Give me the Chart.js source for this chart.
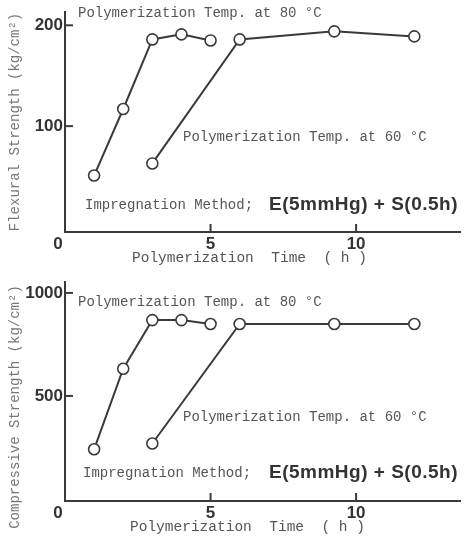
<!DOCTYPE html>
<html><head><meta charset="utf-8">
<script src="https://cdn.jsdelivr.net/npm/chart.js@4.4.0/dist/chart.umd.min.js"></script>
<style>html,body{margin:0;padding:0;background:#fff;} canvas{display:block;}</style>
</head><body>
<canvas id="c1" width="468" height="270"></canvas>
<canvas id="c2" width="468" height="269"></canvas>
<script>
// ---- data ----
const hours80 = [1, 2, 3, 4, 5];
const hours60 = [3, 6, 9.25, 12];
const flex80 = [51, 117, 186, 191, 185];
const flex60 = [63, 186, 194, 189];
const comp80 = [241, 632, 868, 868, 849];
const comp60 = [269, 849, 849, 849];
const timeTicks = [0, 5, 10];
const flexTicks = [100, 200];
const compTicks = [500, 1000];
const label80 = 'Polymerization Temp. at 80 \u00B0C';
const label60 = 'Polymerization Temp. at 60 \u00B0C';
const methodLabel = 'Impregnation Method;';
const methodFormula = 'E(5mmHg) + S(0.5h)';
const xTitle = 'Polymerization  Time  ( h )';
const flexTitle = 'Flexural Strength (kg/cm\u00B2)';
const compTitle = 'Compressive Strength (kg/cm\u00B2)';

const LINE = '#3a3a3a';
const TEXT = '#555';
const MONO = "14px 'Liberation Mono', 'DejaVu Sans Mono', monospace";
const TICKFONT = "'Liberation Sans', Arial, sans-serif";

function pts(xs, ys) { return xs.map((x, i) => ({ x: x, y: ys[i] })); }

const annotPlugin = {
  id: 'annot',
  afterDraw(chart, args, opts) {
    const ctx = chart.ctx;
    const xs = chart.scales.x, ys = chart.scales.y;
    const ca = chart.chartArea;
    ctx.save();
    // inside tick marks
    ctx.strokeStyle = LINE; ctx.lineWidth = 2;
    ys.ticks.forEach(t => {
      const y = ys.getPixelForValue(t.value);
      ctx.beginPath(); ctx.moveTo(ca.left, y); ctx.lineTo(ca.left + 8, y); ctx.stroke();
    });
    xs.ticks.forEach(t => {
      if (t.value === 0) return;
      const x = xs.getPixelForValue(t.value);
      ctx.beginPath(); ctx.moveTo(x, ca.bottom); ctx.lineTo(x, ca.bottom - 8); ctx.stroke();
    });
    // texts
    ctx.textBaseline = 'middle';
    ctx.textAlign = 'left';
    (opts.items || []).forEach(it => {
      ctx.font = it.font || MONO;
      ctx.fillStyle = it.color || TEXT;
      ctx.letterSpacing = it.spacing || '0px';
      if (it.rotate) {
        ctx.save();
        ctx.translate(it.x, it.y);
        ctx.rotate(-Math.PI / 2);
        ctx.textAlign = 'center';
        ctx.fillText(it.text, 0, 0);
        ctx.restore();
      } else {
        ctx.fillText(it.text, it.x, it.y);
      }
    });
    ctx.letterSpacing = '0px';
    ctx.restore();
  }
};

function makeChart(id, y80, y60, yTicks, yMin, yMax, yTitle, items) {
  return new Chart(document.getElementById(id), {
    type: 'line',
    data: {
      datasets: [
        { data: pts(hours80, y80) },
        { data: pts(hours60, y60) }
      ]
    },
    options: {
      responsive: false,
      animation: false,
      events: [],
      layout: { padding: { top: 10, right: 7, left: 0, bottom: 0 } },
      elements: {
        line: { borderColor: LINE, borderWidth: 2, tension: 0 },
        point: { radius: 5.5, backgroundColor: '#fff', borderColor: LINE, borderWidth: 1.6 }
      },
      plugins: { legend: { display: false }, tooltip: { enabled: false }, annot: { items: items } },
      scales: {
        x: {
          type: 'linear', min: 0, max: 13.6,
          afterBuildTicks: s => { s.ticks = timeTicks.map(v => ({ value: v })); },
          afterFit: s => { s.height = 38; },
          grid: { display: false, drawTicks: false },
          border: { display: true, color: LINE, width: 2 },
          ticks: {
            padding: 2, color: '#333', maxRotation: 0,
            font: { family: TICKFONT, size: 17, weight: 'bold' },
            callback: v => v === 0 ? '0   ' : String(v)
          }
        },
        y: {
          type: 'linear', min: yMin, max: yMax,
          afterBuildTicks: s => { s.ticks = yTicks.map(v => ({ value: v })); },
          afterFit: s => { s.width = 65; },
          grid: { display: false, drawTicks: false },
          border: { display: true, color: LINE, width: 2 },
          ticks: {
            padding: 2, color: '#333',
            font: { family: TICKFONT, size: 17, weight: 'bold' },
            callback: v => String(v)
          }
        }
      }
    },
    plugins: [annotPlugin]
  });
}

const BOLD = "bold 19px 'Liberation Sans', Arial, sans-serif";

makeChart('c1', flex80, flex60, flexTicks, -5, 213, flexTitle, [
  { text: label80, x: 78, y: 13 },
  { text: label60, x: 183, y: 137 },
  { text: methodLabel, x: 85, y: 205 },
  { text: methodFormula, x: 269, y: 205, font: BOLD, color: '#333', spacing: '0.5px' },
  { text: xTitle, x: 132, y: 258, font: "14.5px 'Liberation Mono', monospace" },
  { text: flexTitle, x: 15, y: 122, rotate: true, color: '#777' }
]);

makeChart('c2', comp80, comp60, compTicks, -10, 1052, compTitle, [
  { text: label80, x: 78, y: 32 },
  { text: label60, x: 183, y: 147 },
  { text: methodLabel, x: 83, y: 203 },
  { text: methodFormula, x: 269, y: 203, font: BOLD, color: '#333', spacing: '0.5px' },
  { text: xTitle, x: 130, y: 257, font: "14.5px 'Liberation Mono', monospace" },
  { text: compTitle, x: 15, y: 137, rotate: true, color: '#777' }
]);
</script></body></html>
